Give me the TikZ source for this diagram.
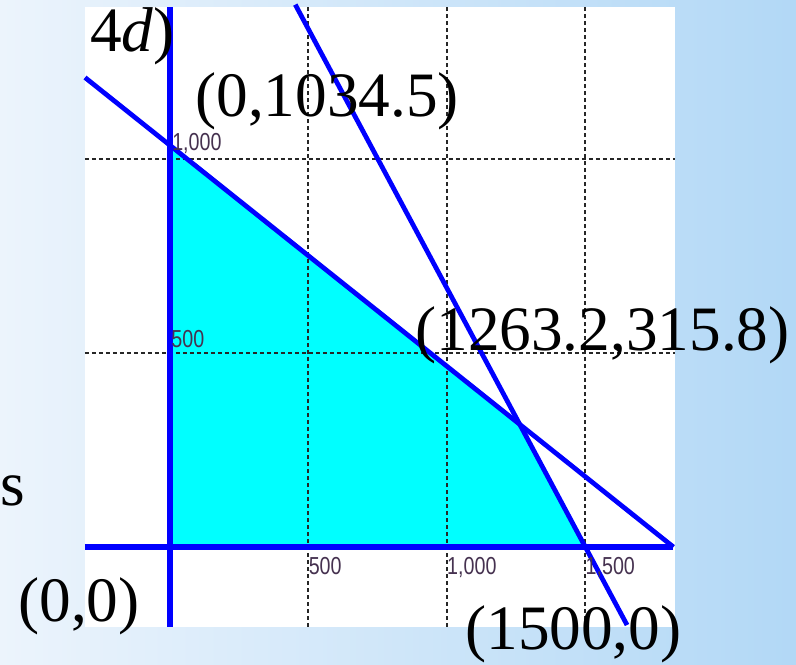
\documentclass[tikz,border=0pt]{standalone}
\usepackage{fontspec}
\setmainfont{Liberation Serif}
\newfontfamily\tickfont[FakeStretch=0.8]{Liberation Sans}

\definecolor{bgleft}{RGB}{236,244,252}
\definecolor{bgmid}{RGB}{228,239,251}
\definecolor{bgright}{RGB}{178,216,246}
\definecolor{tickcol}{RGB}{70,50,80}
\definecolor{feas}{RGB}{0,255,255}
\definecolor{lineblue}{RGB}{0,0,255}

\begin{document}
\begin{tikzpicture}[
  x=0.02cm, y=-0.02cm,
  pt/.style={font=\fontsize{36}{40}\selectfont, inner sep=0pt, anchor=base west},
  tick/.style={font=\tickfont\fontsize{14}{16}\selectfont, text=tickcol, inner sep=0pt, anchor=base west},
  gridln/.style={black!85, line width=1.2pt, dash pattern=on 0.08cm off 0.06cm},
  con/.style={lineblue, line width=2.7pt},
  ax/.style={lineblue, line width=3.4pt},
]

\useasboundingbox (0,0) rectangle (796,665);

% ── Slide background ──
\shade[left color=bgleft, middle color=bgmid, right color=bgright] (0,0) rectangle (796,665);

% ── Plot in data units ──
\begin{scope}[shift={(170,547)}, x=0.00554cm, y=0.00776cm]
  \def\XL{-307}   % left edge of plot
  \def\XR{1823}   % right edge of plot
  \def\YB{-206}   % bottom edge of plot
  \def\YT{1392}   % top edge of plot

  \fill[white] (\XL,\YB) rectangle (\XR,\YT);

  % corner points
  \coordinate (O) at (0,0);
  \coordinate (A) at (0,1034.5);
  \coordinate (B) at (1263.2,315.8);
  \coordinate (C) at (1500,0);

  % feasible region
  \fill[feas] (O) -- (A) -- (B) -- (C) -- cycle;

  % grid
  \foreach \gx in {500,1000,1500}
    \draw[gridln] (\gx,\YB) -- (\gx,\YT);
  \foreach \gy in {500,1000}
    \draw[gridln] (\XL,\gy) -- (\XR,\gy);

  % constraint lines
  \coordinate (l1a) at (\XL,1209.2);
  \coordinate (l1b) at (1818.3,0);
  \coordinate (l2a) at (452.5,1397);
  \coordinate (l2b) at (1650.7,-201);
  \draw[con] (l1a) -- (l1b);
  \draw[con] (l2a) -- (l2b);

  % axes
  \draw[ax] (\XL,0) -- (l1b);
  \draw[ax] (0,\YB) -- (0,\YT);

  % tick labels
  \node[tick] (ty1) at (7,1020) {1,000};
  \node[tick] (ty2) at (4,515) {500};
  \foreach \gx/\lab in {500/500,1000/{1,000},1500/{1,500}}
    \node[tick] (tx\gx) at (\gx,-72) {\lab};
\end{scope}

% ── Point labels ──
\node[pt] (top)  at (90,52)   {4\textit{d})};
\node[pt] (ptA)  at (195,117) {(0,1034.5)};
\node[pt] (ptB)  at (415,351) {(1263.2,315.8)};
\node[pt] (ptO)  at (18,622)  {(0,0)};
\node[pt] (ptC)  at (465,650) {(1500,0)};
\node[pt] (side) at (0,506)   {s};

\end{tikzpicture}
\end{document}
